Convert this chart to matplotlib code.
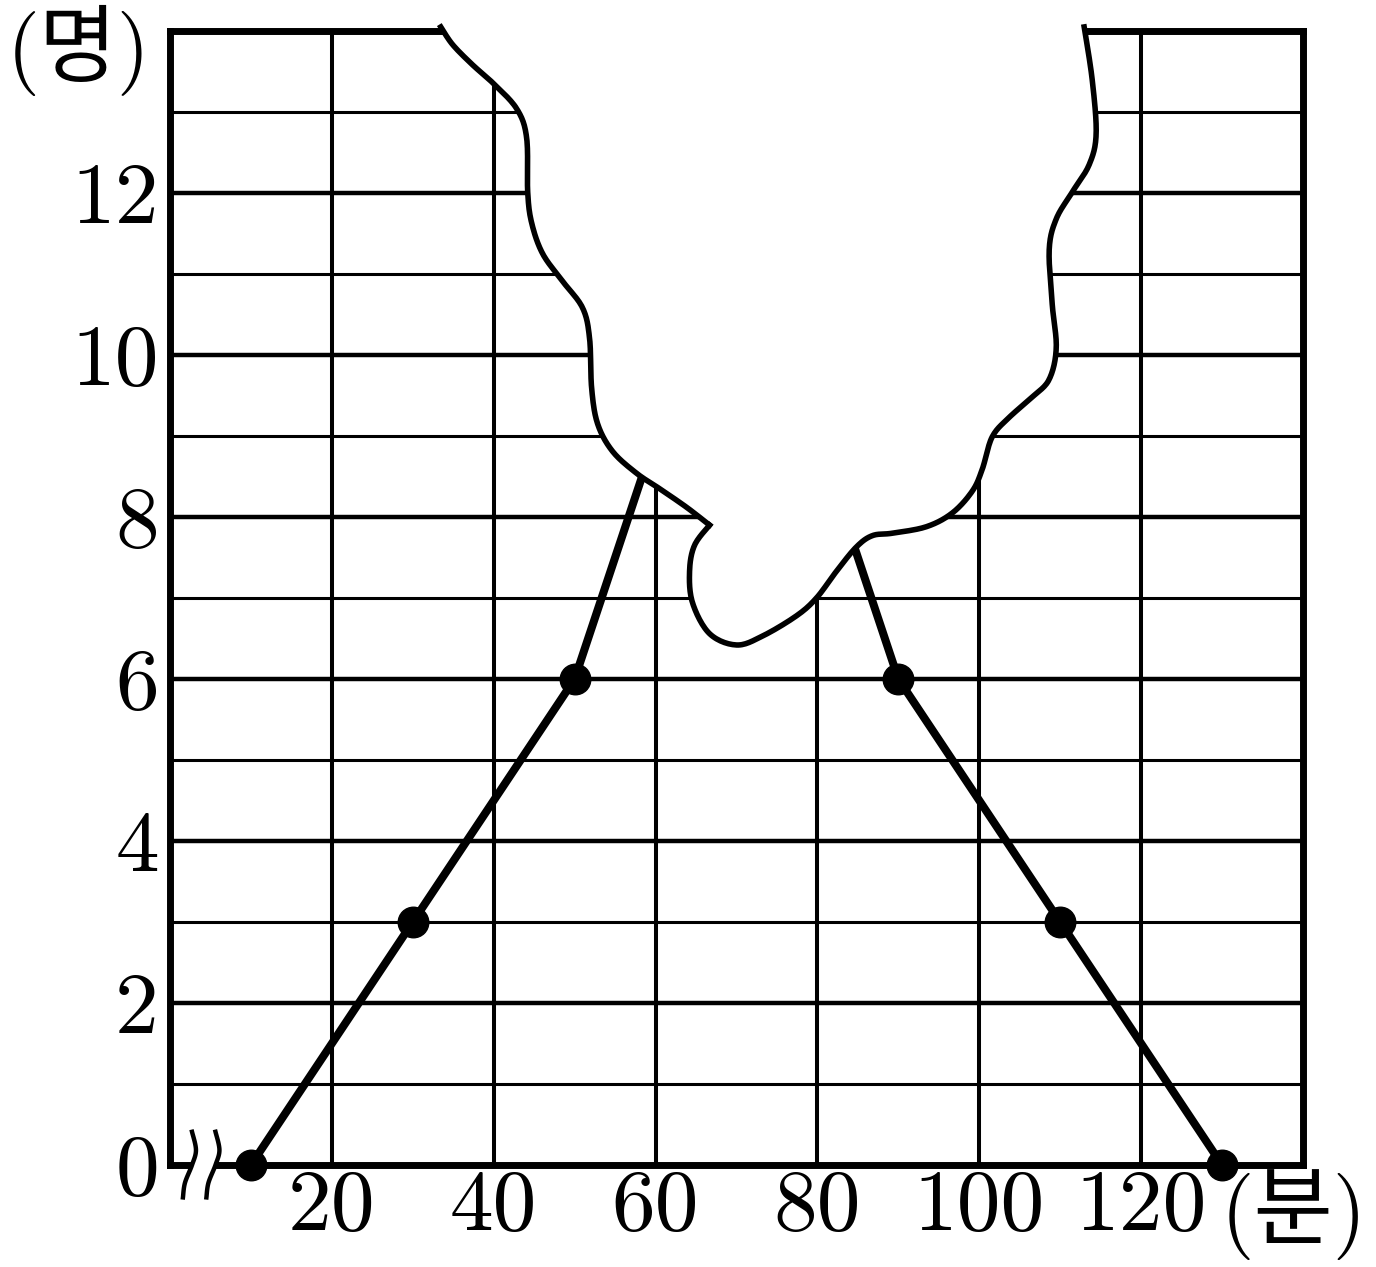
import numpy as np
import matplotlib
matplotlib.use("Agg")
import matplotlib.pyplot as plt

plt.rcParams['font.family'] = ['cmr10', 'Noto Sans CJK KR', 'DejaVu Sans']
plt.rcParams['axes.formatter.use_mathtext'] = True

# 시간(분)에 따른 인원(명) -- 마지막/첫 점은 찢어진 부분에 가려짐
left_min = [10, 30, 50, 60]
left_cnt = [0, 3, 6, 9]
right_min = [80, 90, 110, 130]
right_cnt = [9, 6, 3, 0]

x_ticks = [20, 40, 60, 80, 100, 120]
y_ticks = [0, 2, 4, 6, 8, 10, 12]
y_minor = [1, 3, 5, 7, 9, 11, 13]

# torn patch outline, in data units
tear_a_x = [33.46, 34.94, 37.41, 39.88, 42.84, 44.07, 44.20, 44.69, 46.05, 48.52,
            50.99, 51.85, 52.10, 52.84, 54.69, 57.65, 60.49, 63.83, 66.67]
tear_a_y = [14.05, 13.83, 13.58, 13.36, 13.04, 12.68, 12.01, 11.63, 11.25, 10.91,
            10.58, 10.20, 9.59, 9.15, 8.81, 8.54, 8.35, 8.12, 7.90]
tear_b_x = [66.67, 64.81, 64.20, 64.57, 66.67, 70.00, 73.21, 77.41, 79.88, 82.35,
            84.81, 86.79, 89.26, 93.46, 96.67, 99.14, 100.37, 101.60, 103.70, 106.54,
            108.64, 109.51, 109.01, 108.64, 109.51, 111.48, 113.58, 114.44, 113.95, 112.96]
tear_b_y = [7.90, 7.65, 7.33, 6.94, 6.56, 6.42, 6.53, 6.78, 7.00, 7.33,
            7.63, 7.77, 7.80, 7.88, 8.05, 8.32, 8.59, 8.99, 9.23, 9.48,
            9.70, 10.09, 10.63, 11.30, 11.68, 12.01, 12.35, 12.73, 13.40, 14.05]

# axis break squiggle
brk_x = [2.72, 3.21, 2.72, 1.85, 1.60]
brk_y = [0.41, 0.185, 0.0, -0.22, -0.40]
brk_shift = 2.9


def smooth(xs, ys, n=14):
    p = np.column_stack([xs, ys]).astype(float)
    p = np.vstack([p[0], p, p[-1]])
    out = []
    t = np.linspace(0, 1, n, endpoint=False)[:, None]
    for i in range(1, len(p) - 2):
        p0, p1, p2, p3 = p[i - 1], p[i], p[i + 1], p[i + 2]
        c1 = p1 + (p2 - p0) / 6
        c2 = p2 - (p3 - p1) / 6
        out.append((1 - t) ** 3 * p1 + 3 * (1 - t) ** 2 * t * c1
                   + 3 * (1 - t) * t ** 2 * c2 + t ** 3 * p2)
    out.append(p[-2][None])
    pts = np.vstack(out)
    return pts[:, 0], pts[:, 1]


fig = plt.figure(figsize=(13.76, 12.67), dpi=100)
ax = fig.add_axes([170 / 1376, 102 / 1267, 1133 / 1376, 1134 / 1267])
ax.set_xlim(0, 140)
ax.set_ylim(0, 14)

ax.set_xticks(x_ticks)
ax.set_xticklabels([str(v) for v in x_ticks])
ax.set_yticks(y_ticks)
ax.set_yticklabels([str(v) for v in y_ticks])
ax.set_yticks(y_minor, minor=True)
ax.tick_params(axis='both', which='both', length=0, labelsize=63)
ax.tick_params(axis='x', pad=3)
ax.tick_params(axis='y', pad=8)

for v in x_ticks:
    ax.axvline(v, color='black', lw=2.9, zorder=1)
for v in y_ticks[1:]:
    ax.axhline(v, color='black', lw=3.2, zorder=1)
for v in y_minor:
    ax.axhline(v, color='black', lw=2.2, zorder=1)

for s in ax.spines.values():
    s.set_linewidth(5)
    s.set_zorder(2.5)

ax.plot(left_min, left_cnt, color='black', lw=5.8, zorder=4, clip_on=False,
        marker='o', markersize=22, solid_capstyle='butt')
ax.plot(right_min, right_cnt, color='black', lw=5.8, zorder=4, clip_on=False,
        marker='o', markersize=22, solid_capstyle='butt')

# torn-away patch
ax_, ay_ = smooth(tear_a_x, tear_a_y)
bx_, by_ = smooth(tear_b_x, tear_b_y)
fx = np.concatenate([ax_, bx_, [bx_[-1], ax_[0]]])
fy = np.concatenate([ay_, by_, [14.14, 14.14]])
ax.fill(fx, fy, color='white', lw=0, zorder=6, clip_on=False)
ax.plot(ax_, ay_, color='black', lw=4.0, zorder=7, clip_on=False)
ax.plot(bx_, by_, color='black', lw=4.0, zorder=7, clip_on=False)

# axis break
ax.plot([brk_x[2], brk_x[2] + brk_shift], [0, 0], color='white', lw=7,
        zorder=3, clip_on=False, solid_capstyle='butt')
for k in range(2):
    wx, wy = smooth(np.array(brk_x) + k * brk_shift, brk_y, n=10)
    ax.plot(wx, wy, color='black', lw=3.2, zorder=3.5, clip_on=False)

ax.text(-11.3, 13.76, '(명)', fontsize=61, ha='center', va='center')
ax.annotate('(분)', xy=(138.8, 0), xycoords=('data', 'axes fraction'),
            xytext=(0, -3), textcoords='offset points', fontsize=62,
            ha='center', va='top', annotation_clip=False)

fig.savefig('out.png', dpi=100)
